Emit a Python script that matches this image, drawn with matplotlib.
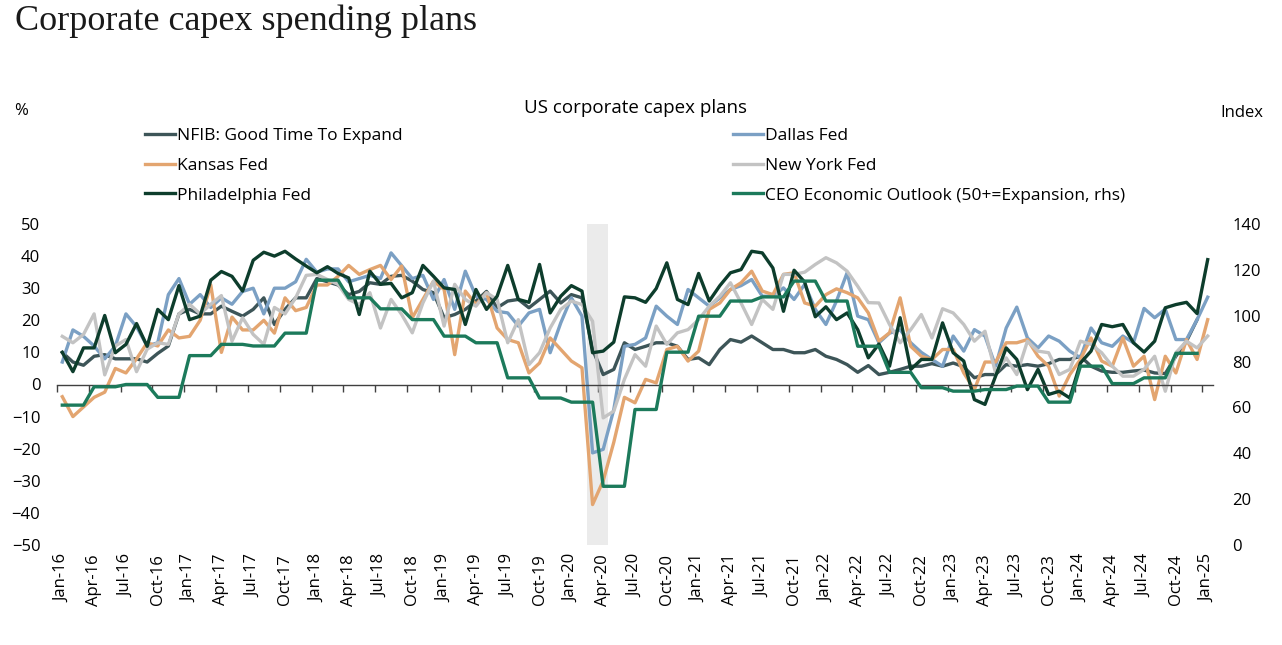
import numpy as np
import pandas as pd
import matplotlib
matplotlib.use("Agg")
import matplotlib.pyplot as plt
from matplotlib.ticker import FixedLocator, NullFormatter

# monthly axis Jan-16 .. Jan-25
months = pd.date_range("2016-01-01", "2025-01-01", freq="MS")
tick_labels = list(months[::3].strftime("%b-%y"))

# % balances (left axis)
nfib = [10, 7, 6, 8.8, 9.3, 8, 8, 8, 7, 9.7, 12, 22, 23.4, 22, 22, 24.4, 22.8, 21.3, 23.4, 27, 18.7, 23.4, 27, 27,
        33, 32, 31, 28, 29, 31.7, 31.2, 33.7, 34, 32.2, 29.6, 28.6, 20.8, 21.8, 23.4, 26, 29, 23.9, 26, 26.5, 23.9, 26.5, 29.1, 25.4,
        28, 27, 10.9, 3.1, 4.7, 13, 10.9, 11.9, 13, 13, 11.9, 7.8, 8.3, 6.2, 10.9, 14, 13.2, 15.1, 13, 10.9, 10.9, 9.9, 9.9, 10.9,
        8.8, 7.8, 6.2, 3.8, 5.9, 3.1, 3.8, 4.7, 5.7, 5.7, 6.5, 5.7, 6.7, 5.5, 2.1, 3.1, 3.1, 6.2, 5.7, 6.2, 5.7, 6.5, 7.8, 7.8,
        8.8, 5.7, 4.2, 3.8, 3.8, 4.2, 4.5, 3.6, 3.4, 8.8, 13.5, 20.2, np.nan]

dallas = [7, 17, 15, 12, 8, 12, 22, 18, 12, 13, 28, 33, 25, 28, 24, 27, 25, 29, 30, 22, 30, 30, 32, 39,
          35, 36, 36, 32, 33, 34, 33, 41, 37, 33, 34, 26.5, 32.7, 23.4, 35.3, 27.5, 26.5, 22.8, 22.3, 18.2, 22.3, 23.4, 9.9, 19.2,
          27, 21.3, -21.3, -20.2, -7.8, 11.9, 12.5, 14.5, 24.4, 21.3, 18.7, 29.6, 27, 24.4, 27, 29.6, 30.8, 32.7, 27.5, 27.5, 30.1, 26.5, 31.2, 23.4,
          18.7, 26, 34.8, 21.3, 20.2, 13, 16, 17, 13, 10, 7.8, 5.7, 15.1, 10.4, 17.1, 15.1, 5.7, 17.6, 24.1, 14.5, 11.4, 15.1, 13.5, 10.4,
          8.3, 17.6, 13, 11.9, 15.1, 13, 23.7, 20.8, 23.5, 14, 14, 20.2, 27.2]

kansas = [-3.8, -10, -7, -4, -2.4, 5, 3.6, 8, 13, 12, 17, 14.5, 15, 20, 31, 10, 21, 17, 17, 20, 16, 27, 23, 24,
          31, 31, 33.7, 37.1, 34.3, 35.8, 37.1, 32.7, 36.9, 20.8, 26.5, 32.2, 29.6, 9.3, 29.1, 24.9, 28.6, 17.6, 14, 13, 3.6, 6.7, 14.5, 10.9,
          7.3, 5.2, -37.4, -30, -18, -4, -5.7, 1.6, 0.5, 10.9, 11.9, 7.3, 10.4, 23.4, 25.4, 29.6, 31.7, 35.3, 29.1, 28, 34.3, 34.8, 25.4, 24.4,
          28, 29.8, 28.6, 27, 22.3, 13.5, 16.1, 27, 11.9, 8.8, 7.8, 10.9, 10.9, 3.6, -1.6, 7, 7, 13, 13, 14, 8.8, 5.7, -3.6, 3.1,
          7.8, 14.5, 7.3, 5.7, 14.5, 5.7, 8.8, -4.7, 8.8, 3.6, 14, 7.8, 20.2]

new_york = [15, 13, 15.6, 22, 3, 12, 14, 4, 11, 13, 12.5, 22, 25, 22, 25, 27.7, 13.5, 20.8, 15.6, 12.5, 24, 22, 27, 34,
            34.3, 32.7, 31.2, 26.5, 24.9, 28.6, 17.6, 26.5, 21.8, 16.1, 25.4, 32.2, 18.2, 31.2, 26.5, 24.4, 28.6, 26.5, 13, 20.2, 6.2, 9.9, 17.6, 23.4,
            26, 24.9, 19.7, -10.4, -8.3, 1.6, 9.3, 5.7, 18.2, 12.5, 16.1, 17.1, 20.2, 24.4, 27.5, 31.7, 25.4, 18.7, 26.5, 23.4, 34.3, 34.3, 35, 37.4,
            39.5, 37.9, 35.3, 30.6, 25.5, 25.4, 18.7, 13, 17.1, 21.8, 14.5, 23.6, 22.3, 18.7, 13.5, 16.6, 3.6, 8.3, 3.1, 13.5, 10.4, 9.9, 3.1, 4.7,
            13.5, 12.5, 9.9, 5.7, 2.6, 2.6, 4.7, 8.8, -2.1, 9.9, 13.5, 11.4, 15.1]

philly = [10, 4, 11.4, 11.4, 21.5, 9.9, 12.5, 19, 11.9, 23.4, 20.2, 30.8, 20.2, 21.3, 32.5, 35.2, 33.7, 29.1, 38.7, 41.2, 40, 41.5, 39.1, 36.9,
          34.8, 36.7, 34.6, 33.2, 21.8, 35.3, 31.2, 31.5, 27, 28.6, 37.1, 33.7, 30.1, 29.6, 18.7, 29.6, 23.4, 27.5, 37.1, 26.5, 25.6, 37.4, 22.3, 27.5,
          30.8, 29.1, 9.9, 10.4, 13.2, 27.3, 27, 25.6, 29.9, 37.9, 26.5, 24.9, 34.6, 26, 30.8, 34.8, 35.8, 41.5, 41, 36.3, 22.8, 35.6, 31.9, 21.1,
          24.2, 20.2, 22.3, 17.1, 8.3, 12.6, 5.7, 20.8, 4.7, 7.8, 7.8, 19.2, 9.9, 7.3, -4.7, -6.2, 2.6, 11.4, 7.8, -1.6, 4.7, -3.1, -2.1, -4.2,
          6.7, 10.4, 18.7, 18, 18.7, 13, 10.1, 13.5, 23.9, 24.9, 25.6, 22.1, 38.9]

# CEO Economic Outlook index, quarterly Q1-16 .. Q4-24 (right axis)
ceo_q = [61, 69, 70, 64.4,
         82.6, 87.5, 86.8, 92.4,
         115.5, 107.8, 103, 98.3,
         91.1, 88.2, 72.9, 64.1,
         62.3, 25.6, 59.1, 84.1,
         99.8, 106.4, 108.2, 115.1,
         106.4, 86.7, 75.3, 68.6,
         67.1, 67.8, 69.3, 62.3,
         78, 70.4, 72.9, 83.6]
ceo = list(np.repeat(ceo_q, 3)) + [np.nan]

x = np.arange(len(months))

fig = plt.figure(figsize=(12.82, 6.45), dpi=100)
ax = fig.add_axes([57 / 1282, 1 - 545 / 645, 1156 / 1282, 321 / 645])
ax2 = ax.twinx()

# covid recession shading
ax.axvspan(49.5, 51.5, color="#EBEBEB", lw=0, zorder=0)

lw = 2.4
l1, = ax.plot(x, nfib, color="#3D5558", lw=lw, label="NFIB: Good Time To Expand")
l2, = ax.plot(x, dallas, color="#7BA0C4", lw=lw, label="Dallas Fed")
l3, = ax.plot(x, kansas, color="#E3A570", lw=lw, label="Kansas Fed")
l4, = ax.plot(x, new_york, color="#C3C3C3", lw=lw, label="New York Fed")
l5, = ax.plot(x, philly, color="#0D3D2C", lw=lw, label="Philadelphia Fed")
l6, = ax2.plot(x, ceo, color="#1C7A5B", lw=lw, label="CEO Economic Outlook (50+=Expansion, rhs)")

ax.set_xlim(-0.5, len(months) - 0.5)
ax.set_ylim(-50, 50)
ax.set_yticks(np.arange(-50, 51, 10))
ax2.set_ylim(0, 140)
ax2.set_yticks(np.arange(0, 141, 20))

tick_font = {"family": "Open Sans", "size": 12}
for s in ["top", "left", "right"]:
    ax.spines[s].set_visible(False)
for s in ["top", "left", "right", "bottom"]:
    ax2.spines[s].set_visible(False)
ax.spines["bottom"].set_position(("data", 0))
ax.spines["bottom"].set_color("#404040")
ax.spines["bottom"].set_linewidth(1.0)

# tick marks between quarters on the zero line, labels at the bottom
ax.xaxis.set_major_locator(FixedLocator(np.arange(-0.5, len(months), 3)))
ax.xaxis.set_major_formatter(NullFormatter())
ax.xaxis.set_minor_locator(FixedLocator(x[::3]))
ax.set_xticklabels(tick_labels, minor=True, rotation=90, fontdict=tick_font)
ax.tick_params(axis="x", which="major", length=5, width=1, color="#404040", direction="out")
ax.tick_params(axis="x", which="minor", length=0, pad=122)
ax.tick_params(axis="y", length=0, pad=12)
ax2.tick_params(axis="y", length=0, pad=14)
for lab in ax.get_yticklabels() + ax2.get_yticklabels():
    lab.set_fontfamily("Open Sans")
    lab.set_fontsize(12)

# texts
fig.text(15 / 1282, 1 - 21 / 645, "Corporate capex spending plans", family="Liberation Serif",
         fontsize=26, va="center", ha="left", color="#1a1a1a")
fig.text(635 / 1282, 1 - 108 / 645, "US corporate capex plans", family="Open Sans",
         fontsize=13.5, ha="center", va="center")
fig.text(21 / 1282, 1 - 111 / 645, "%", family="Open Sans", fontsize=12, ha="center", va="center")
fig.text(1242 / 1282, 1 - 113 / 645, "Index", family="Open Sans", fontsize=12, ha="center", va="center")

leg_kw = dict(loc="upper left", frameon=False, prop={"family": "Open Sans", "size": 12.5},
              handlelength=1.7, handletextpad=0.15, labelspacing=0.78, borderpad=0, borderaxespad=0)
fig.legend(handles=[l1, l3, l5], bbox_to_anchor=(145 / 1282, 1 - 128 / 645), **leg_kw)
fig.legend(handles=[l2, l4, l6], bbox_to_anchor=(733 / 1282, 1 - 128 / 645), **leg_kw)

fig.savefig("out.png", dpi=100)
